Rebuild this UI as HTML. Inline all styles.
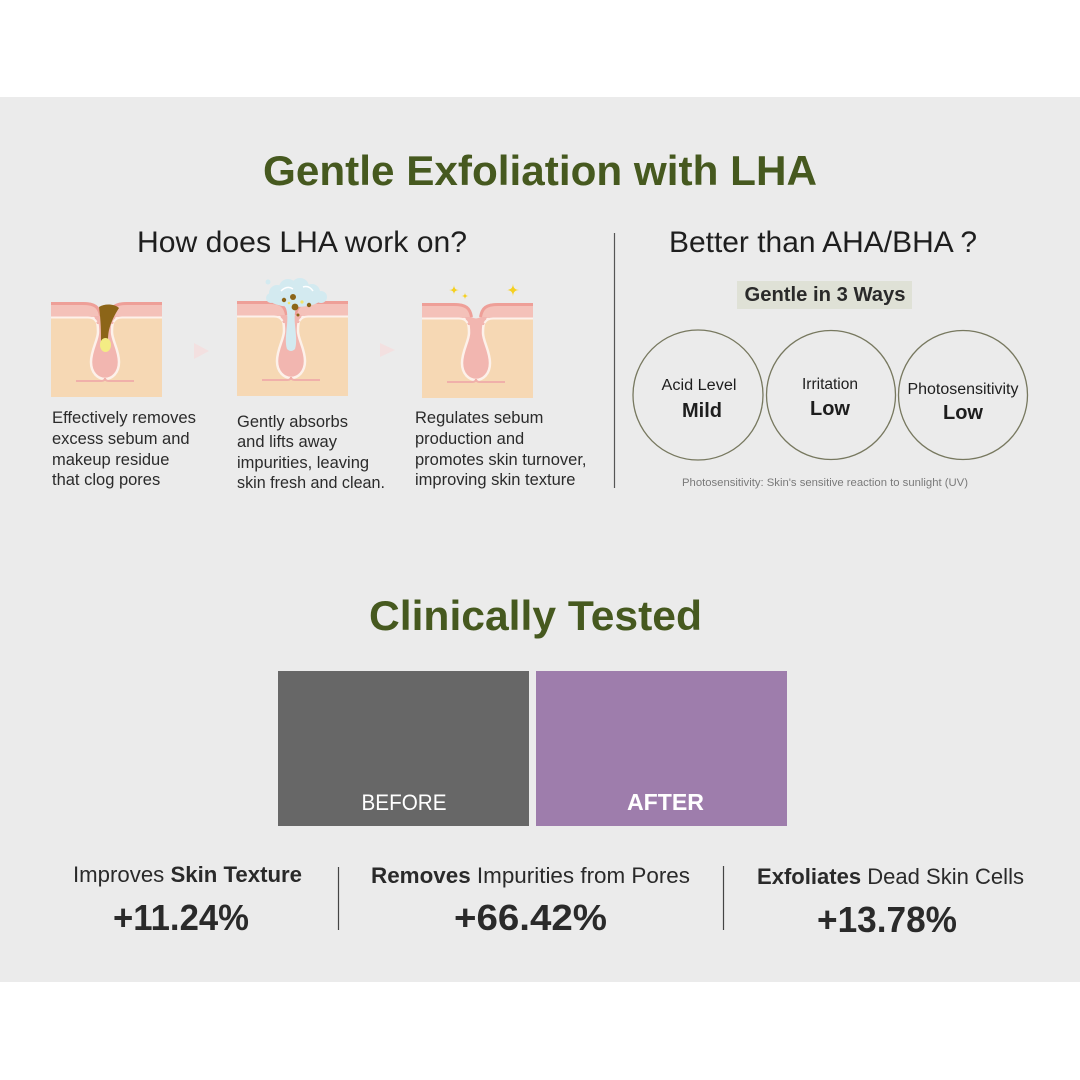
<!DOCTYPE html>
<html><head><meta charset="utf-8"><style>
html,body{margin:0;padding:0;background:#fff;}
svg{display:block;}
text{font-family:"Liberation Sans",Arial,sans-serif;}
</style></head><body>
<svg width="1080" height="1080" viewBox="0 0 1080 1080" xmlns="http://www.w3.org/2000/svg">
<defs>
<g id="skin">
  <rect x="0" y="14" width="111" height="81" fill="#f6d8b4"/>
  <path d="M41,14 C46,16 47,22 47,30 C47,38 40,48 40,60 C40,71 47,77 54,77 C61,77 68,71 68,60 C68,48 61,38 61,30 C61,22 62,16 67,14 Z" fill="#f2b6b0" stroke="#fdf1ea" stroke-width="2.5"/>
  <path d="M25,79 H50 Q54,79 54,76 Q54,79 58,79 H83" fill="none" stroke="#f0b0aa" stroke-width="2"/>
  <rect x="0" y="0" width="111" height="15" fill="#f4c1b9"/>
  <path d="M43,14 L65,14 L62,22 L46,22 Z" fill="#f2b6b0"/>
  <path d="M0,15.5 H37 Q43,15.5 45.5,20 M62.5,20 Q65,15.5 71,15.5 H111" fill="none" stroke="#fdf1ea" stroke-width="2"/>
  <path d="M32,0 C44,0 48,4 49.5,14 Q54,17 58.5,14 C60,4 64,0 76,0 Z" fill="#ebebeb"/>
  <path d="M0,1.5 H32 C44,1.5 48,5 49.5,14 M58.5,14 C60,5 64,1.5 76,1.5 H111" fill="none" stroke="#ee9f98" stroke-width="3"/>
</g>
</defs>

<rect x="0" y="0" width="1080" height="1080" fill="#ffffff"/>
<rect x="0" y="97" width="1080" height="885" fill="#ebebeb"/>

<!-- Title -->
<text x="540" y="185" text-anchor="middle" font-size="42" font-weight="bold" fill="#46591f" textLength="554" lengthAdjust="spacingAndGlyphs">Gentle Exfoliation with LHA</text>

<text x="302" y="252" text-anchor="middle" font-size="30" fill="#1e1e1e" textLength="330" lengthAdjust="spacingAndGlyphs">How does LHA work on?</text>
<text x="823" y="252" text-anchor="middle" font-size="30" fill="#1e1e1e" textLength="308" lengthAdjust="spacingAndGlyphs">Better than AHA/BHA ?</text>

<line x1="614.5" y1="233" x2="614.5" y2="488" stroke="#555" stroke-width="1.2"/>

<!-- Illustrations -->
<g transform="translate(51,302)">
  <use href="#skin"/>
  <path d="M48,5 C54,1 64,2 68,6 C64,12 60,20 58,28 C57,33 57,36 57,39 L50,39 C50,30 50,20 48,5 Z" fill="#8c6518"/>
  <ellipse cx="54.5" cy="43" rx="5.5" ry="7" fill="#f3ec84"/>
</g>
<path d="M194,343 L209,351 L194,359 Z" fill="#f3e0e0"/>

<g transform="translate(237,301)">
  <use href="#skin"/>
  <path d="M46,2 C50,6 51,14 50,24 C49,34 48,42 50,48 Q54,52 58,48 C60,42 59,34 58,24 C57,14 58,6 62,2 Z" fill="#d3eaf0"/>
  <circle cx="40" cy="-8" r="8" fill="#d3eaf0"/>
  <circle cx="51" cy="-13" r="9" fill="#d3eaf0"/>
  <circle cx="63" cy="-14" r="9" fill="#d3eaf0"/>
  <circle cx="75" cy="-9" r="8" fill="#d3eaf0"/>
  <circle cx="84" cy="-4" r="6" fill="#d3eaf0"/>
  <circle cx="34" cy="-3" r="5" fill="#d3eaf0"/>
  <ellipse cx="58" cy="-2" rx="26" ry="8" fill="#d3eaf0"/>
  <circle cx="31" cy="-19" r="2.5" fill="#d3eaf0"/>
  <path d="M44,-10 Q50,-16 56,-12 M66,-14 Q72,-16 76,-10" fill="none" stroke="#ffffff" stroke-width="1.5"/>
  <circle cx="47" cy="-1" r="2.2" fill="#8c6518"/>
  <circle cx="56" cy="-4" r="3" fill="#8c6518"/>
  <circle cx="58" cy="6" r="3.4" fill="#8c6518"/>
  <circle cx="72" cy="4" r="2.2" fill="#8c6518"/>
  <circle cx="61" cy="14" r="1.5" fill="#8c6518"/>
  <circle cx="65" cy="1" r="1.6" fill="#f2e36a"/>
  <circle cx="52" cy="2" r="1.3" fill="#f2e36a"/>
</g>
<path d="M380,343 L395,350 L380,357 Z" fill="#f3e0e0"/>

<g transform="translate(422,303)">
  <use href="#skin"/>
  <path d="M32,-18 Q32,-13 37,-13 Q32,-13 32,-8 Q32,-13 27,-13 Q32,-13 32,-18 Z" fill="#f5d020"/>
  <path d="M43,-10.5 Q43,-7 46.5,-7 Q43,-7 43,-3.5 Q43,-7 39.5,-7 Q43,-7 43,-10.5 Z" fill="#f5d020"/>
  <path d="M91,-19.5 Q91,-13 97.5,-13 Q91,-13 91,-6.5 Q91,-13 84.5,-13 Q91,-13 91,-19.5 Z" fill="#f5d020"/>
</g>

<!-- Left column texts -->
<g font-size="16.5" fill="#2b2b2b">
  <text x="52" y="423" textLength="144" lengthAdjust="spacingAndGlyphs">Effectively removes</text>
  <text x="52" y="444">excess sebum and</text>
  <text x="52" y="465">makeup residue</text>
  <text x="52" y="485">that clog pores</text>

  <text x="237" y="427">Gently absorbs</text>
  <text x="237" y="447">and lifts away</text>
  <text x="237" y="468">impurities, leaving</text>
  <text x="237" y="488" textLength="148" lengthAdjust="spacingAndGlyphs">skin fresh and clean.</text>

  <text x="415" y="423">Regulates sebum</text>
  <text x="415" y="444">production and</text>
  <text x="415" y="465">promotes skin turnover,</text>
  <text x="415" y="485">improving skin texture</text>
</g>

<!-- Right side -->
<rect x="737" y="281" width="175" height="28" fill="#dfe1d6"/>
<text x="825" y="301" text-anchor="middle" font-size="20" font-weight="bold" fill="#2a2a2a" textLength="161" lengthAdjust="spacingAndGlyphs">Gentle in 3 Ways</text>

<g fill="none" stroke="#77785f" stroke-width="1.3">
  <circle cx="698" cy="395" r="65"/>
  <circle cx="831" cy="395" r="64.5"/>
  <circle cx="963" cy="395" r="64.5"/>
</g>
<g fill="#1e1e1e" text-anchor="middle">
  <text x="699" y="390" font-size="15.5" textLength="75" lengthAdjust="spacingAndGlyphs">Acid Level</text>
  <text x="702" y="417" font-size="20" font-weight="bold">Mild</text>
  <text x="830" y="389" font-size="15.5">Irritation</text>
  <text x="830" y="415" font-size="20" font-weight="bold">Low</text>
  <text x="963" y="394" font-size="15.5" textLength="111" lengthAdjust="spacingAndGlyphs">Photosensitivity</text>
  <text x="963" y="419" font-size="20" font-weight="bold">Low</text>
</g>
<text x="825" y="486" text-anchor="middle" font-size="10.7" fill="#7a7a7a" textLength="286" lengthAdjust="spacingAndGlyphs">Photosensitivity: Skin's sensitive reaction to sunlight (UV)</text>

<!-- Clinically Tested -->
<text x="535.5" y="630" text-anchor="middle" font-size="42" font-weight="bold" fill="#46591f" textLength="333" lengthAdjust="spacingAndGlyphs">Clinically Tested</text>

<rect x="278" y="671" width="251" height="155" fill="#676767"/>
<rect x="536" y="671" width="251" height="155" fill="#9e7dac"/>
<text x="404" y="810" text-anchor="middle" font-size="22" fill="#ffffff" textLength="85" lengthAdjust="spacingAndGlyphs">BEFORE</text>
<text x="665.5" y="810" text-anchor="middle" font-size="23" font-weight="bold" fill="#ffffff" textLength="77" lengthAdjust="spacingAndGlyphs">AFTER</text>

<!-- Stats -->
<g fill="#2a2a2a" text-anchor="middle" font-size="22">
  <text x="187.5" y="882" textLength="229" lengthAdjust="spacingAndGlyphs">Improves <tspan font-weight="bold">Skin Texture</tspan></text>
  <text x="530.5" y="883" textLength="319" lengthAdjust="spacingAndGlyphs"><tspan font-weight="bold">Removes</tspan> Impurities from Pores</text>
  <text x="890.5" y="884" textLength="267" lengthAdjust="spacingAndGlyphs"><tspan font-weight="bold">Exfoliates</tspan> Dead Skin Cells</text>
</g>
<g fill="#2a2a2a" text-anchor="middle" font-size="36" font-weight="bold">
  <text x="181" y="930" textLength="136" lengthAdjust="spacingAndGlyphs">+11.24%</text>
  <text x="530.5" y="930" textLength="153" lengthAdjust="spacingAndGlyphs">+66.42%</text>
  <text x="887" y="932" textLength="140" lengthAdjust="spacingAndGlyphs">+13.78%</text>
</g>
<line x1="338.5" y1="867" x2="338.5" y2="930" stroke="#444" stroke-width="1.2"/>
<line x1="723.5" y1="866" x2="723.5" y2="930" stroke="#444" stroke-width="1.2"/>
</svg>
</body></html>
